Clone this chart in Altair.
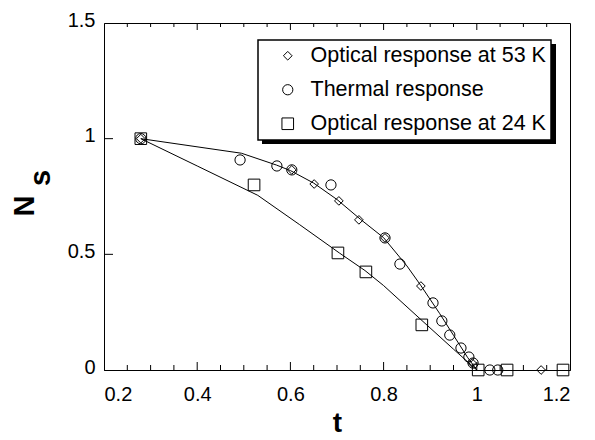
import altair as alt
import pandas as pd

series_names = ["Optical response at 53 K", "Thermal response", "Optical response at 24 K"]
shapes = ["diamond", "circle", "square"]
sizes = [75, 135, 115]

# Optical response at 53 K (diamonds)
t_53 = [0.279, 0.603, 0.651, 0.704, 0.747, 0.803, 0.880, 0.990, 1.138]
n_53 = [1.0, 0.865, 0.804, 0.731, 0.649, 0.571, 0.363, 0.030, 0.0]

# Thermal response (circles)
t_th = [0.279, 0.492, 0.571, 0.603, 0.687, 0.803, 0.835, 0.906, 0.925, 0.942, 0.966, 0.983, 0.992, 1.028, 1.045]
n_th = [1.0, 0.908, 0.882, 0.865, 0.800, 0.571, 0.458, 0.290, 0.212, 0.151, 0.095, 0.056, 0.030, 0.0, 0.0]

# Optical response at 24 K (squares)
t_24 = [0.279, 0.522, 0.702, 0.762, 0.882, 1.003, 1.065, 1.185]
n_24 = [1.0, 0.800, 0.506, 0.424, 0.195, 0.0, 0.0, 0.0]

# fitted curves
fit1_t = [0.279, 0.495, 0.57, 0.60, 0.65, 0.70, 0.75, 0.80, 0.85, 0.88, 0.92, 0.95, 0.98, 1.0]
fit1_n = [1.0, 0.937, 0.886, 0.862, 0.808, 0.737, 0.652, 0.572, 0.45, 0.365, 0.245, 0.15, 0.055, 0.0]
fit2_t = [0.279, 0.40, 0.53, 0.62, 0.705, 0.76, 0.80, 0.88, 0.95, 1.0]
fit2_n = [1.0, 0.882, 0.755, 0.628, 0.506, 0.43, 0.365, 0.218, 0.09, 0.0]

x_labels = [0.2, 0.4, 0.6, 0.8, 1.0, 1.2]
y_labels = [0, 0.5, 1, 1.5]
x_major = [0.4, 0.6, 0.8, 1.0]
x_minor = [0.25, 0.3, 0.35, 0.45, 0.5, 0.55, 0.65, 0.7, 0.75, 0.85, 0.9, 0.95, 1.05, 1.1, 1.15]
y_major = [0.5, 1.0]

W, H = 466, 347
FONT = "Liberation Sans"

pts = pd.concat([
    pd.DataFrame({"t": t_53, "N": n_53, "series": series_names[0]}),
    pd.DataFrame({"t": t_th, "N": n_th, "series": series_names[1]}),
    pd.DataFrame({"t": t_24, "N": n_24, "series": series_names[2]}),
])
fits = pd.concat([
    pd.DataFrame({"t": fit1_t, "N": fit1_n, "fit": "a"}),
    pd.DataFrame({"t": fit2_t, "N": fit2_n, "fit": "b"}),
])

xs = alt.Scale(domain=[0.2, 1.2], nice=False, zero=False)
ys = alt.Scale(domain=[0, 1.5], nice=False, zero=False)

x_enc = alt.X("t:Q", scale=xs, axis=alt.Axis(values=x_labels, format="~g", title="t", titleFontSize=28,
                                               titleFontWeight="bold", titlePadding=5, labelPadding=14))
y_enc = alt.Y("N:Q", scale=ys, axis=alt.Axis(values=y_labels, format="~g", title=None,
                                               labelPadding=9, labelOffset=-3))

leg = alt.Legend(title=None, orient="none", legendX=154, legendY=17,
                 fillColor="white", strokeColor="black", zindex=2,
                 padding=5, rowPadding=11,
                 symbolStrokeColor="black", symbolStrokeWidth=1,
                 symbolFillColor="white", symbolOffset=14,
                 labelFont=FONT, labelFontSize=21.5, labelColor="black",
                 labelOffset=12, labelLimit=400)

shadow = alt.Chart(pd.DataFrame({"a": [0]})).mark_rect(color="black").encode(
    x=alt.value(158), x2=alt.value(452), y=alt.value(21), y2=alt.value(121))

lines = alt.Chart(fits).mark_line(color="black", strokeWidth=1).encode(
    x=x_enc, y=y_enc, detail="fit:N", order="t:Q")

points = alt.Chart(pts).mark_point(filled=False, color="black", strokeWidth=1, opacity=1).encode(
    x=alt.X("t:Q", scale=xs),
    y=alt.Y("N:Q", scale=ys),
    shape=alt.Shape("series:N", scale=alt.Scale(domain=series_names, range=shapes), legend=leg),
    size=alt.Size("series:N", scale=alt.Scale(domain=series_names, range=sizes), legend=leg),
)

maj_df = pd.DataFrame({"t": x_major})
min_df = pd.DataFrame({"t": x_minor})
ymaj_df = pd.DataFrame({"N": y_major})

tick_b_maj = alt.Chart(maj_df).mark_rule(color="black", strokeWidth=1).encode(
    x=alt.X("t:Q", scale=xs), y=alt.value(H), y2=alt.value(H - 8))
tick_b_min = alt.Chart(min_df).mark_rule(color="black", strokeWidth=1).encode(
    x=alt.X("t:Q", scale=xs), y=alt.value(H), y2=alt.value(H - 5))
tick_t_maj = alt.Chart(maj_df).mark_rule(color="black", strokeWidth=1).encode(
    x=alt.X("t:Q", scale=xs), y=alt.value(0), y2=alt.value(7))
tick_t_min = alt.Chart(min_df).mark_rule(color="black", strokeWidth=1).encode(
    x=alt.X("t:Q", scale=xs), y=alt.value(0), y2=alt.value(4))
tick_l = alt.Chart(ymaj_df).mark_rule(color="black", strokeWidth=1).encode(
    y=alt.Y("N:Q", scale=ys), x=alt.value(0), x2=alt.value(9))

title_n = alt.Chart(pd.DataFrame({"s": ["N"]})).mark_text(
    font=FONT, fontSize=29, fontWeight="bold", angle=270, color="black").encode(
    text="s:N", x=alt.value(-79), y=alt.value(183))
title_s = alt.Chart(pd.DataFrame({"s": ["s"]})).mark_text(
    font=FONT, fontSize=29, fontWeight="bold", angle=270, color="black").encode(
    text="s:N", x=alt.value(-63), y=alt.value(155))

chart = alt.layer(
    shadow, lines, points, tick_b_maj, tick_b_min, tick_t_maj, tick_t_min, tick_l, title_n, title_s
).properties(
    width=W, height=H,
    background="white",
    autosize=alt.AutoSizeParams(type="none"),
    padding={"left": 96, "top": 15, "right": 10, "bottom": 70},
).configure_view(
    stroke="black", strokeWidth=1
).configure_axis(
    labelFont=FONT, labelFontSize=20, labelColor="black", titleFont=FONT, titleColor="black",
    domainColor="black", domainWidth=1, ticks=False, grid=False
).configure_legend(
    strokeWidth=1.5
)

chart.save("out.html", embed_options={"renderer": "svg", "actions": False})
